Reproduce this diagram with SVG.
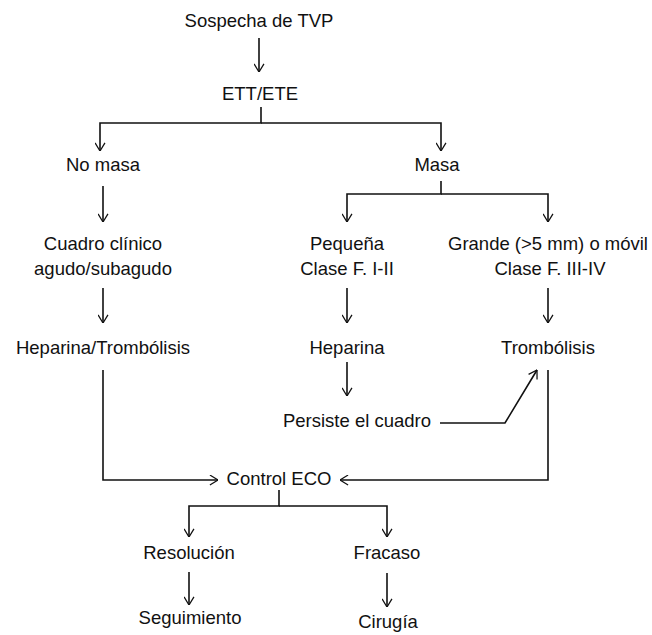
<svg xmlns="http://www.w3.org/2000/svg" width="652" height="635" viewBox="0 0 652 635">
<style>
text{font-family:"Liberation Sans",Arial,sans-serif;font-size:18.5px;fill:#111;text-anchor:middle}
.c{fill:none;stroke:#111;stroke-width:1.6;marker-end:url(#a)}
.n{fill:none;stroke:#111;stroke-width:1.6}
</style>
<defs>
<marker id="a" viewBox="0 0 10 12" refX="9.5" refY="6" markerWidth="9" markerHeight="11" markerUnits="userSpaceOnUse" orient="auto">
<path d="M0.5,0.5 L9.5,6 L0.5,11.5" fill="none" stroke="#111" stroke-width="1.4"/>
</marker>
</defs>
<rect width="652" height="635" fill="#fff"/>
<g id="connectors">
<path class="c" d="M259,38 V72"/>
<path class="c" d="M261,107 V123 H100 V151"/>
<path class="c" d="M261,123 H441 V151"/>
<path class="c" d="M103,186 V222"/>
<path class="c" d="M441,181 V194 H347 V222"/>
<path class="c" d="M441,194 H548 V222"/>
<path class="c" d="M103,288 V323"/>
<path class="c" d="M347,288 V323"/>
<path class="c" d="M548,288 V323"/>
<path class="c" d="M347,362 V396"/>
<path class="c" d="M440,423 H505 L537,370"/>
<path class="c" d="M103,370 V480 H218"/>
<path class="c" d="M548,370 V480 H340"/>
<path class="c" d="M279,490 V506 H189 V537"/>
<path class="c" d="M279,506 H387 V537"/>
<path class="c" d="M189,572 V605"/>
<path class="c" d="M387,573 V607"/>
</g>
<g id="sospecha"><text x="259" y="27">Sospecha de TVP</text></g>
<g id="ett"><text x="260" y="100">ETT/ETE</text></g>
<g id="nomasa"><text x="103" y="171">No masa</text></g>
<g id="masa"><text x="437" y="171">Masa</text></g>
<g id="cuadro"><text x="103" y="250">Cuadro clínico</text><text x="103" y="275">agudo/subagudo</text></g>
<g id="pequena"><text x="347" y="250">Pequeña</text><text x="347" y="275">Clase F. I-II</text></g>
<g id="grande"><text x="548" y="250">Grande (&gt;5 mm) o móvil</text><text x="550" y="275">Clase F. III-IV</text></g>
<g id="heptrom"><text x="103" y="354">Heparina/Trombólisis</text></g>
<g id="heparina"><text x="347" y="354">Heparina</text></g>
<g id="trombolisis"><text x="548" y="354">Trombólisis</text></g>
<g id="persiste"><text x="357" y="427">Persiste el cuadro</text></g>
<g id="control"><text x="279" y="485">Control ECO</text></g>
<g id="resolucion"><text x="189" y="559">Resolución</text></g>
<g id="fracaso"><text x="387" y="559">Fracaso</text></g>
<g id="seguimiento"><text x="190" y="624">Seguimiento</text></g>
<g id="cirugia"><text x="388" y="628">Cirugía</text></g>
</svg>
